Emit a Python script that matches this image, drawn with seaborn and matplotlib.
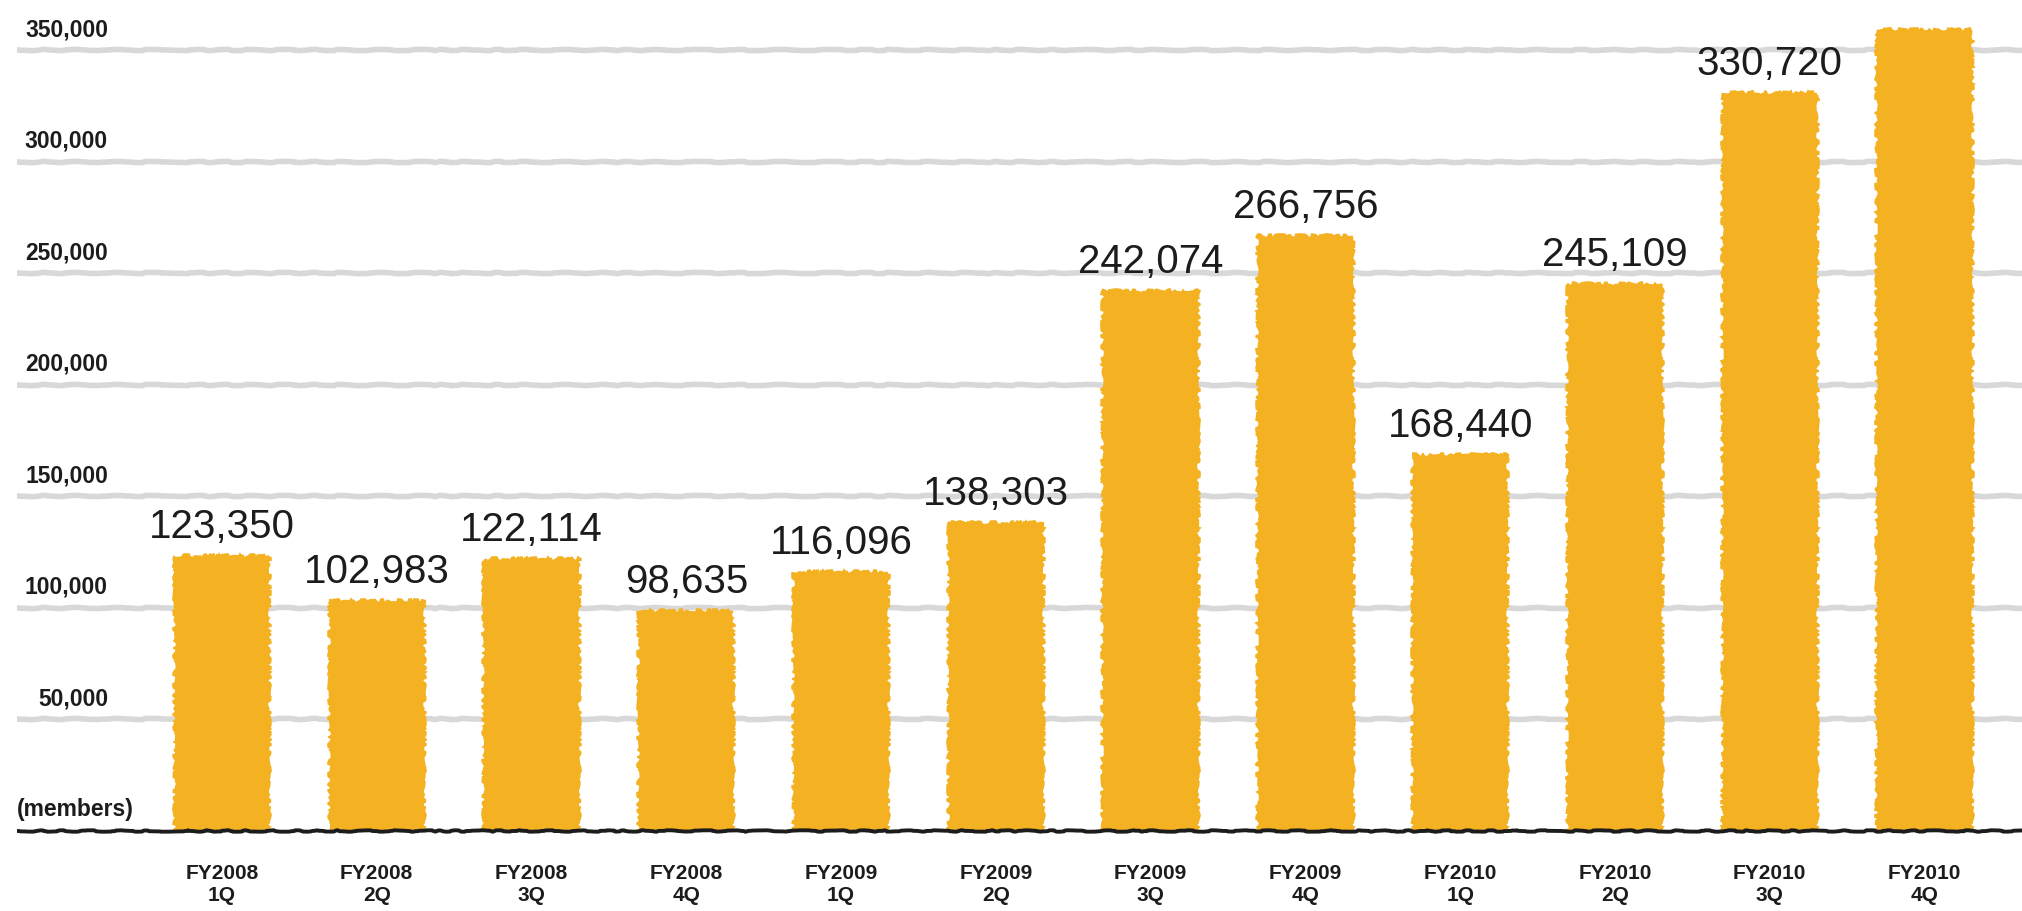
import matplotlib
matplotlib.use("Agg")
import matplotlib.pyplot as plt
import seaborn as sns
import pandas as pd

# Quarterly membership counts
quarters = ["FY2008\n1Q", "FY2008\n2Q", "FY2008\n3Q", "FY2008\n4Q",
            "FY2009\n1Q", "FY2009\n2Q", "FY2009\n3Q", "FY2009\n4Q",
            "FY2010\n1Q", "FY2010\n2Q", "FY2010\n3Q", "FY2010\n4Q"]
members = [123350, 102983, 122114, 98635,
           116096, 138303, 242074, 266756,
           168440, 245109, 330720, 359000]
# Quarters whose value is printed above the bar
labelled = [True] * 11 + [False]
y_ticks = [50000, 100000, 150000, 200000, 250000, 300000, 350000]

BAR = "#F4B223"
GRID = "#d8d8d8"
INK = "#1c1c1c"

sns.set_style("white")
plt.rcParams["font.family"] = ["Liberation Sans", "DejaVu Sans"]

df = pd.DataFrame({"quarter": quarters, "members": members})

fig = plt.figure(figsize=(20.22, 9.12), dpi=100)
ax = fig.add_axes([0, 80 / 912, 1, 832 / 912])

sns.barplot(data=df, x="quarter", y="members", color=BAR, width=0.61,
            saturation=1, ax=ax, zorder=3)
for p in ax.patches:
    p.set_edgecolor(BAR)
    p.set_linewidth(1.5)
    p.set_sketch_params(scale=1.8, length=30, randomness=40)

x_left, x_right = -1.434, 11.63
ax.set_xlim(x_left, x_right)
ax.set_ylim(0, 373000)

# sketchy horizontal rules
grid_start = x_left + 17 / 154.8
for yv in y_ticks:
    ln = ax.hlines(yv, grid_start, x_right, color=GRID, linewidth=4.0, zorder=1)
    ln.set_sketch_params(scale=0.6, length=120, randomness=20)
    ax.annotate(f"{yv:,}", xy=(x_left + 108 / 154.8, yv), xytext=(0, 15),
                textcoords="offset pixels", ha="right", va="baseline",
                fontsize=16.5, fontweight="bold", color=INK)

base = ax.hlines(0, grid_start, x_right, color=INK, linewidth=2.8, zorder=4,
                 clip_on=False)
base.set_sketch_params(scale=0.7, length=120, randomness=30)

ax.annotate("(members)", xy=(grid_start, 0), xytext=(0, 16),
            textcoords="offset pixels", ha="left", va="baseline",
            fontsize=16.5, fontweight="bold", color=INK)

# value labels over the bars
for i, (v, show) in enumerate(zip(members, labelled)):
    if show:
        ax.annotate(f"{v:,}", xy=(i, v), xytext=(0, 19),
                    textcoords="offset pixels", ha="center", va="baseline",
                    fontsize=29, color=INK)

ax.set_yticks([])
ax.set_xlabel("")
ax.set_ylabel("")
ax.tick_params(axis="x", length=0, pad=23)
for lbl in ax.get_xticklabels():
    lbl.set_fontsize(15)
    lbl.set_fontweight("bold")
    lbl.set_color(INK)
    lbl.set_linespacing(1.2)
sns.despine(ax=ax, left=True, bottom=True)

fig.savefig("out.png", dpi=100, facecolor="white")
